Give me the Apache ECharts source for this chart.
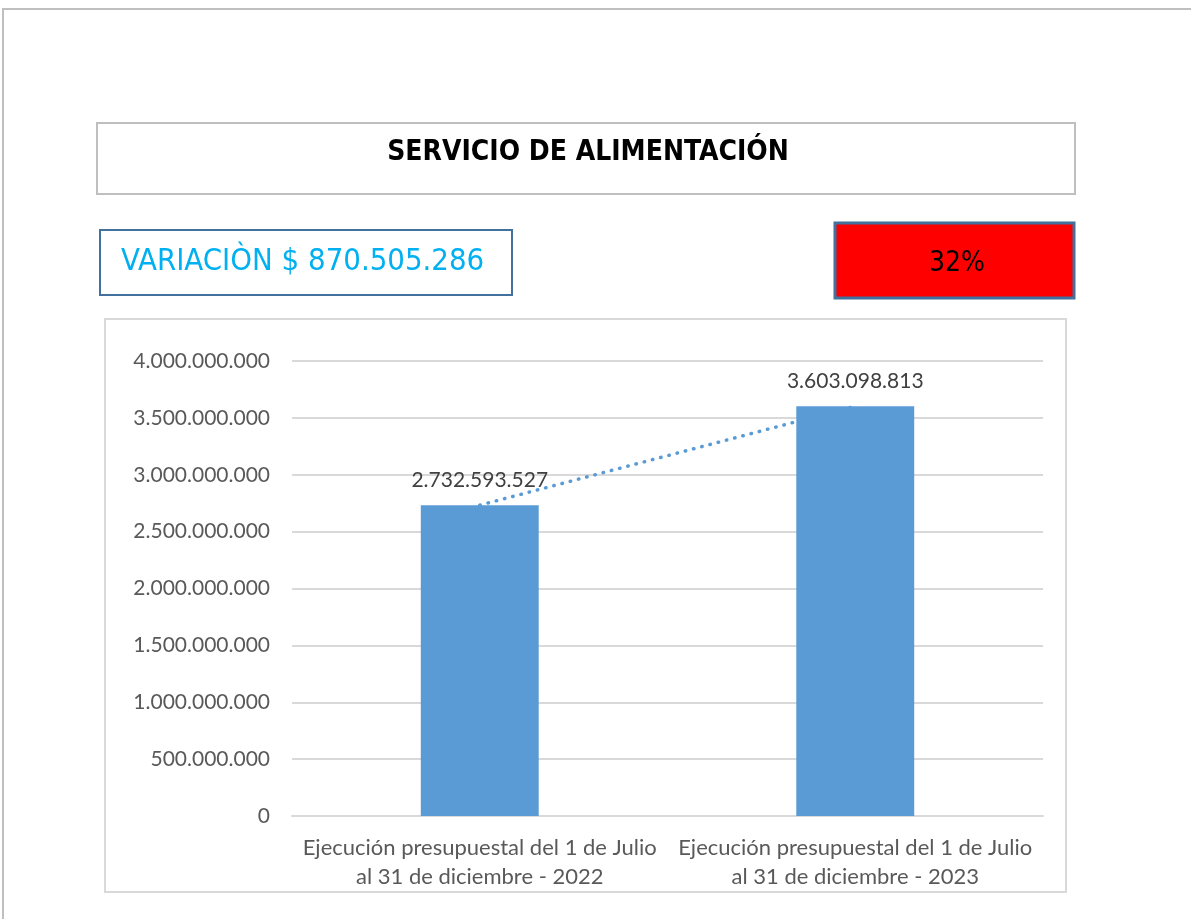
<!DOCTYPE html>
<html><head><meta charset="utf-8">
<script src="https://cdn.jsdelivr.net/npm/echarts@6/dist/echarts.min.js"></script>
<style>html,body{margin:0;padding:0;background:#fff}#c{width:1191px;height:919px}</style>
</head><body><div id="c"></div>
<script>
const categories = ["Ejecución presupuestal del 1 de Julio\nal 31 de diciembre - 2022", "Ejecución presupuestal del 1 de Julio\nal 31 de diciembre - 2023"];
const values = [2732593527, 3603098813];
const titleText = "SERVICIO DE ALIMENTACIÓN";
const variationText = "VARIACIÒN $ 870.505.286";
const pctText = "32%";
const yMin = 0, yMax = 4000000000, yStep = 500000000;

function fmt(v){ return String(Math.round(v)).replace(/\B(?=(\d{3})+(?!\d))/g, "."); }

const chart = echarts.init(document.getElementById('c'), null, {renderer:'canvas'});
const font = "Lato, 'Open Sans', sans-serif";
const narrow = "'DejaVu Sans Condensed', 'Liberation Sans Narrow', sans-serif";
chart.setOption({
  animation:false,
  backgroundColor:'#fff',
  graphic:[
    {type:'rect', shape:{x:3,y:9,width:1200,height:920}, style:{fill:'none',stroke:'#bfbfbf',lineWidth:2}},
    {type:'rect', shape:{x:97,y:123,width:978,height:71}, style:{fill:'#fff',stroke:'#bfbfbf',lineWidth:2}},
    {type:'text', x:588, y:153, style:{text:titleText, fill:'#000', font:"bold 28px " + narrow, textAlign:'center', textVerticalAlign:'middle'}},
    {type:'rect', shape:{x:100,y:230,width:412,height:65}, style:{fill:'#fff',stroke:'#41719c',lineWidth:2}},
    {type:'text', x:121, y:262, style:{text:variationText, fill:'#00b0f0', font:"30.8px " + narrow, textAlign:'left', textVerticalAlign:'middle'}},
    {type:'rect', shape:{x:835,y:223,width:239,height:75}, style:{fill:'#ff0000',stroke:'#41719c',lineWidth:3}},
    {type:'text', x:957, y:264, style:{text:pctText, fill:'#000', font:"28px " + narrow, textAlign:'center', textVerticalAlign:'middle'}},
    {type:'rect', shape:{x:105,y:319,width:961,height:573}, style:{fill:'none',stroke:'#d9d9d9',lineWidth:2}}
  ],
  grid:{left:292, right:148, top:361, bottom:103},
  xAxis:{type:'category', data:categories,
    axisLine:{show:true, lineStyle:{color:'#d9d9d9', width:2}},
    axisTick:{show:false},
    axisLabel:{color:'#595959', fontSize:22, fontFamily:font, lineHeight:29, margin:17, interval:0}},
  yAxis:{type:'value', min:yMin, max:yMax, interval:yStep,
    axisLine:{show:false}, axisTick:{show:false},
    splitLine:{lineStyle:{color:'#d9d9d9', width:2}},
    axisLabel:{color:'#595959', fontSize:21, fontFamily:font, margin:22, formatter:fmt}},
  series:[
    {type:'bar', data:values, barWidth:'31.4%', itemStyle:{color:'#5b9bd5'},
      label:{show:true, position:'top', distance:14, color:'#404040', fontSize:21, fontFamily:font, formatter:p=>fmt(p.value)}},
    {type:'line', data:values, symbol:'none', lineStyle:{color:'#5b9bd5', width:3.5, type:[0.5,8], cap:'round'}, z:3}
  ]
});
</script></body></html>
